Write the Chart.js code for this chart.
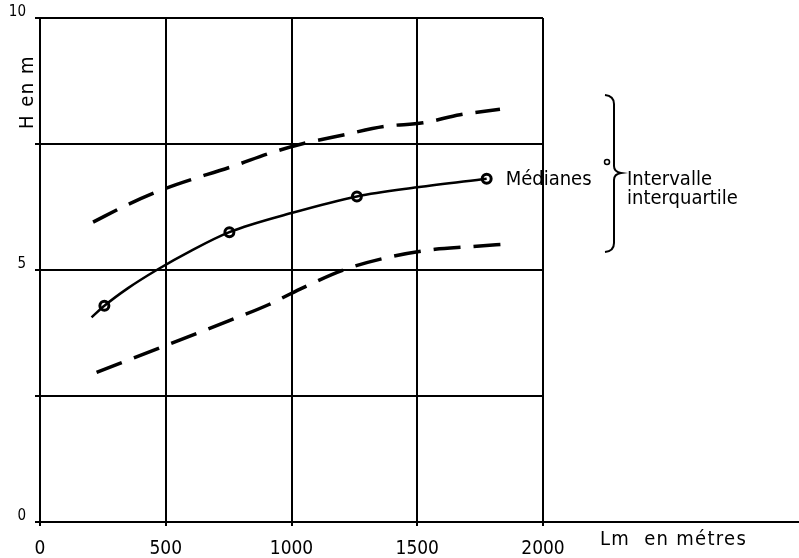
<!DOCTYPE html>
<html>
<head>
<meta charset="utf-8">
<script src="https://cdn.jsdelivr.net/npm/chart.js@4.4.1/dist/chart.umd.min.js"></script>
<style>
  html,body{margin:0;padding:0;background:#fff;}
  #wrap{width:799px;height:558px;position:relative;}
</style>
</head>
<body>
<div id="wrap"><canvas id="hchart" width="799" height="558"></canvas></div>
<script>
// values (x = Lm in metres, y = H in m)
const medianX = [256, 753, 1260, 1776];
const medianY = [4.29, 5.75, 6.46, 6.81];
// smooth curve through the medians
const curveX = [205, 256, 350, 464, 600, 753, 1000, 1260, 1500, 1776];
const curveY = [4.06, 4.29, 4.64, 5.0, 5.38, 5.75, 6.13, 6.46, 6.64, 6.81];
// upper quartile (dashed)
const upperX = [211, 350, 500, 768, 928, 1040, 1206, 1372, 1523, 1670, 1829];
const upperY = [5.95, 6.3, 6.62, 7.06, 7.34, 7.5, 7.68, 7.85, 7.92, 8.08, 8.19];
// lower quartile (dashed)
const lowerX = [225, 500, 750, 908, 1034, 1206, 1392, 1571, 1703, 1862];
const lowerY = [2.97, 3.5, 3.99, 4.31, 4.62, 5.0, 5.26, 5.41, 5.46, 5.52];
// tick labels
const xTicks = [0, 500, 1000, 1500, 2000];
const yTicks = [0, 5, 10];

const FONT = "'DejaVu Sans Condensed','Liberation Sans Narrow','DejaVu Sans',sans-serif";

function toPoints(xs, ys){
    return xs.map((x, i) => ({x: x, y: ys[i]}));
}

// draws the texts, the brace and the long baseline
const notes = {
    id: 'notes',
    afterDraw(chart){
        const ctx = chart.ctx;
        const area = chart.chartArea;
        const xs = chart.scales.x;
        const ys = chart.scales.y;
        ctx.save();
        ctx.strokeStyle = '#000';
        ctx.fillStyle = '#000';

        // baseline runs on to the right edge
        ctx.lineWidth = 2;
        ctx.beginPath();
        ctx.moveTo(area.right, ys.getPixelForValue(0));
        ctx.lineTo(chart.width, ys.getPixelForValue(0));
        ctx.stroke();

        // axis titles
        ctx.font = '20px ' + FONT;
        ctx.textBaseline = 'alphabetic';
        ctx.textAlign = 'left';
        ctx.letterSpacing = '1.3px';
        ctx.fillText('Lm  en métres', 600, 545);

        ctx.save();
        ctx.letterSpacing = '1.5px';
        ctx.translate(33, 92);
        ctx.rotate(-Math.PI / 2);
        ctx.textAlign = 'center';
        ctx.fillText('H en m', 0, 0);
        ctx.restore();
        ctx.letterSpacing = '0px';

        // label next to the last median
        const lx = xs.getPixelForValue(medianX[medianX.length - 1]);
        const ly = ys.getPixelForValue(medianY[medianY.length - 1]);
        ctx.fillText('Médianes', lx + 19, ly + 6);

        // small circle in front of the brace
        ctx.lineWidth = 1.5;
        ctx.beginPath();
        ctx.arc(607, 162, 2.5, 0, Math.PI * 2);
        ctx.stroke();

        // brace
        ctx.lineWidth = 2;
        ctx.beginPath();
        ctx.moveTo(605, 95);
        ctx.quadraticCurveTo(614, 96, 614, 104);
        ctx.lineTo(614, 166);
        ctx.quadraticCurveTo(614, 172, 621, 173);
        ctx.quadraticCurveTo(614, 174, 614, 180);
        ctx.lineTo(614, 243);
        ctx.quadraticCurveTo(614, 251, 605, 252);
        ctx.stroke();

        ctx.fillText('Intervalle', 627, 185);
        ctx.fillText('interquartile', 627, 204);
        ctx.restore();
    }
};

function createchart(){
    const canvaElement = document.getElementById('hchart').getContext('2d');
    const config = {
        type: 'line',
        data: {
            datasets: [{
                label: 'curve',
                data: toPoints(curveX, curveY),
                borderColor: '#000',
                borderWidth: 2.5,
                pointRadius: 0,
                cubicInterpolationMode: 'monotone'
            }, {
                label: 'upper',
                data: toPoints(upperX, upperY),
                borderColor: '#000',
                borderWidth: 3.5,
                borderDash: [27, 13],
                pointRadius: 0,
                cubicInterpolationMode: 'monotone'
            }, {
                label: 'lower',
                data: toPoints(lowerX, lowerY),
                borderColor: '#000',
                borderWidth: 3.5,
                borderDash: [27, 13],
                pointRadius: 0,
                cubicInterpolationMode: 'monotone'
            }, {
                label: 'Médianes',
                data: toPoints(medianX, medianY),
                showLine: false,
                pointRadius: 4.5,
                pointBorderWidth: 3,
                pointBorderColor: '#000',
                pointBackgroundColor: '#fff'
            }]
        },
        options: {
            responsive: false,
            animation: false,
            layout: {padding: {top: 16, right: 256, left: 0, bottom: 0}},
            plugins: {legend: {display: false}, tooltip: {enabled: false}},
            scales: {
                x: {
                    type: 'linear',
                    min: 0,
                    max: 2000,
                    afterFit(scale){ scale.height = 36; },
                    afterBuildTicks(scale){ scale.ticks = xTicks.map(v => ({value: v})); },
                    grid: {color: '#000', lineWidth: 2, tickLength: 4},
                    border: {color: '#000', width: 2},
                    ticks: {
                        color: '#000',
                        padding: 12,
                        maxRotation: 0,
                        font: {family: FONT, size: 19},
                        callback: (v) => String(v)
                    }
                },
                y: {
                    min: 0,
                    max: 10,
                    afterFit(scale){ scale.width = 40; },
                    ticks: {
                        stepSize: 2.5,
                        color: '#000',
                        padding: 9,
                        labelOffset: -6,
                        font: {family: FONT, size: 15},
                        callback: (v) => yTicks.includes(v) ? String(v) : ''
                    },
                    grid: {color: '#000', lineWidth: 2, tickLength: 5},
                    border: {color: '#000', width: 2}
                }
            }
        },
        plugins: [notes]
    };
    new Chart(canvaElement, config);
}

window.addEventListener('load', () => {
    createchart();
});
</script>
</body>
</html>
